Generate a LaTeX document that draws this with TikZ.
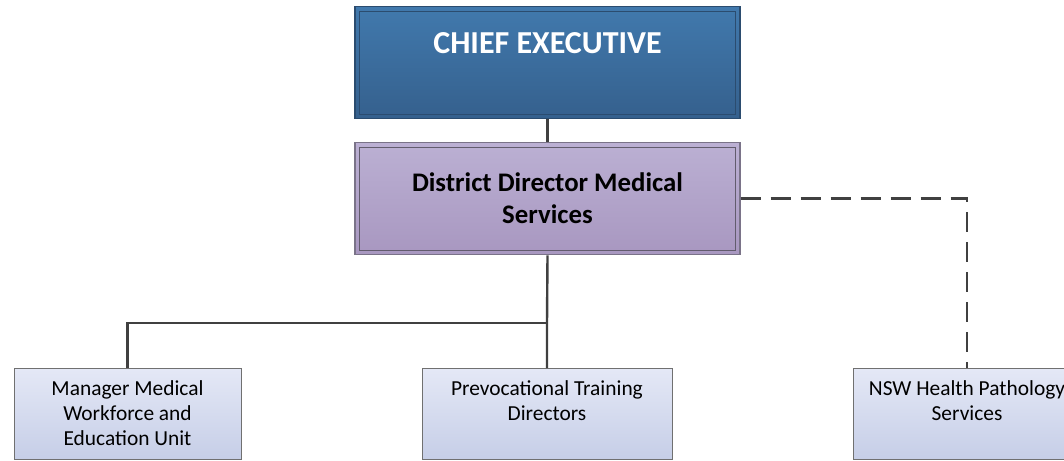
\documentclass[tikz,border=0pt]{standalone}
\usepackage{fontspec}
\setmainfont{Carlito}
\definecolor{ceotop}{HTML}{4179AD}
\definecolor{ceobot}{HTML}{35608D}
\definecolor{ceoline}{HTML}{2B4C6F}
\definecolor{ddtop}{HTML}{BBB0D3}
\definecolor{ddbot}{HTML}{A897C0}
\definecolor{ddline}{HTML}{7A7388}
\definecolor{lowtop}{HTML}{E4E8F6}
\definecolor{lowbot}{HTML}{C6CEE7}
\definecolor{lowline}{HTML}{707070}
\definecolor{conn}{HTML}{404040}
\tikzset{
  inner border/.style={path picture={\draw[#1,line width=0.9pt]
      ([shift={(4.5pt,4.5pt)}]path picture bounding box.south west) rectangle
      ([shift={(-4.5pt,-4.5pt)}]path picture bounding box.north east);}},
  topbox/.style={draw=ceoline, line width=1.3pt, top color=ceotop, bottom color=ceobot,
      minimum width=385pt, minimum height=112pt, inner sep=0pt, anchor=north,
      inner border=ceoline},
  midbox/.style={draw=ddline, line width=1.3pt, top color=ddtop, bottom color=ddbot,
      minimum width=385pt, minimum height=112pt, inner sep=0pt, anchor=north,
      inner border=ddline!80!black},
  lowbox/.style={draw=lowline, line width=1pt, top color=lowtop, bottom color=lowbot,
      inner sep=0pt, anchor=north, font=\fontsize{21.4}{25}\selectfont},
  link/.style={draw=conn, line width=2.4pt},
  dotlink/.style={draw=conn, line width=2.4pt, dash pattern=on 20pt off 10pt}
}
\newcommand{\lowtext}[2]{\begin{minipage}[t][91pt][t]{#1}\centering\vspace*{12pt}#2\end{minipage}}
\begin{document}
\begin{tikzpicture}[x=1pt,y=-1pt]
\useasboundingbox (0,0) rectangle (1064,460);
\begin{scope}
\clip (0,0) rectangle (1064,460);
\node[topbox] (ceo) at (547.5,6) {\begin{minipage}[t][112pt][t]{385pt}\centering\vspace*{26pt}\color{white}\bfseries\fontsize{32}{34}\selectfont CHIEF EXECUTIVE\end{minipage}};
\node[midbox] (ddms) at (547.5,142) {\bfseries\fontsize{26.8}{31}\selectfont\raisebox{-3pt}[\height][\depth]{\begin{tabular}{c}District Director Medical\\[1pt] Services\end{tabular}}};
\node[lowbox, minimum width=227pt, minimum height=91pt] (mmw) at (127.5,368) {\lowtext{227pt}{Manager Medical\\Workforce and\\Education Unit}};
\node[lowbox, minimum width=250pt, minimum height=91pt] (ptd) at (547,368) {\lowtext{250pt}{Prevocational Training\\Directors}};
\node[lowbox, minimum width=228pt, minimum height=91pt] (nsw) at (967,368) {\lowtext{228pt}{NSW Health Pathology\\Services}};
\coordinate (split) at (547,323);
\draw[link] (ceo.south) -- (ddms.north);
\draw[link] (ddms.south) -- (split) -- (ptd.north);
\draw[link] (split) -| (mmw.north);
\draw[dotlink] (ddms.east) -| (nsw.north);
\end{scope}
\end{tikzpicture}
\end{document}
